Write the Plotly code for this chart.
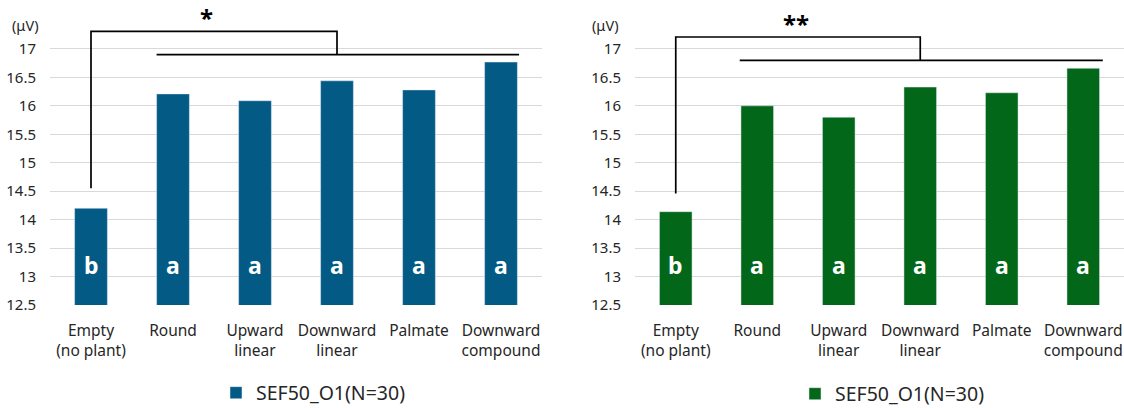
import plotly.graph_objects as go

categories = ["Empty<br>(no plant)", "Round", "Upward<br>linear", "Downward<br>linear", "Palmate", "Downward<br>compound"]
left_values = [14.2, 16.21, 16.09, 16.44, 16.28, 16.77]
right_values = [14.14, 16.0, 15.8, 16.33, 16.23, 16.66]
group_letters = ["b", "a", "a", "a", "a", "a"]
series_name = "SEF50_O1(N=30)"
y_ticks = [12.5, 13, 13.5, 14, 14.5, 15, 15.5, 16, 16.5, 17]
y_tick_text = ["12.5", "13", "13.5", "14", "14.5", "15", "15.5", "16", "16.5", "17"]

# significance brackets: (x, y) vertices
left_bracket_x = [0, 0, 3.0, 3.0]
left_bracket_y = [14.55, 17.31, 17.31, 16.9]
left_line_x = [0.8, 5.22]
left_line_y = [16.9, 16.9]
left_star = "*"
left_star_pos = (1.41, 17.56)

right_bracket_x = [0, 0, 3.0, 3.0]
right_bracket_y = [14.46, 17.21, 17.21, 16.8]
right_line_x = [0.785, 5.24]
right_line_y = [16.8, 16.8]
right_star = "**"
right_star_pos = (1.48, 17.44)

blue = "#035b85"
green = "#03671a"
FONT = "Noto Sans"
TXT = "#262626"

x_idx = list(range(len(categories)))

fig = go.Figure()
fig.add_trace(go.Bar(x=x_idx, y=left_values, marker_color=blue, width=0.4, name=series_name,
                     xaxis="x", yaxis="y", legend="legend"))
fig.add_trace(go.Bar(x=x_idx, y=right_values, marker_color=green, width=0.4, name=series_name,
                     xaxis="x2", yaxis="y2", legend="legend2"))

for bx, by, lx, ly, xa, ya in [(left_bracket_x, left_bracket_y, left_line_x, left_line_y, "x", "y"),
                               (right_bracket_x, right_bracket_y, right_line_x, right_line_y, "x2", "y2")]:
    fig.add_trace(go.Scatter(x=bx, y=by, mode="lines", line=dict(color="black", width=1.7),
                             showlegend=False, xaxis=xa, yaxis=ya, hoverinfo="skip", cliponaxis=False))
    fig.add_trace(go.Scatter(x=lx, y=ly, mode="lines", line=dict(color="black", width=1.7),
                             showlegend=False, xaxis=xa, yaxis=ya, hoverinfo="skip", cliponaxis=False))

annotations = []
for i, letter in enumerate(group_letters):
    for xa, ya in [("x", "y"), ("x2", "y2")]:
        annotations.append(dict(x=i, y=13.2, xref=xa, yref=ya, text=letter, showarrow=False,
                                font=dict(family=FONT, size=23, color="white", weight="bold")))
annotations.append(dict(x=left_star_pos[0], y=left_star_pos[1], xref="x", yref="y", text=left_star,
                        showarrow=False, font=dict(family=FONT, size=24, color="black", weight="bold")))
annotations.append(dict(x=right_star_pos[0], y=right_star_pos[1], xref="x2", yref="y2", text=right_star,
                        showarrow=False, font=dict(family=FONT, size=24, color="black", weight="bold")))
annotations.append(dict(x=25 / 1124, y=1 - 25 / 408, xref="paper", yref="paper", text="(μV)", showarrow=False,
                        xanchor="center", yanchor="middle", font=dict(family=FONT, size=14.5, color=TXT)))
annotations.append(dict(x=605 / 1124, y=1 - 25 / 408, xref="paper", yref="paper", text="(μV)", showarrow=False,
                        xanchor="center", yanchor="middle", font=dict(family=FONT, size=14.5, color=TXT)))

yrange = [12.5, 17.86]
ydom = [103 / 408, 1.0]
yax = dict(range=yrange, tickvals=y_ticks, ticktext=y_tick_text, showgrid=True, gridcolor="#d9d9d9",
           gridwidth=1.2, zeroline=False, showline=False, ticks="outside", ticklen=10, tickcolor="rgba(0,0,0,0)",
           tickfont=dict(family=FONT, size=15, color=TXT), domain=ydom, fixedrange=True, automargin=False)
xax = dict(range=[-0.5, 5.5], tickvals=x_idx, ticktext=categories, showgrid=False, zeroline=False,
           showline=False, ticks="outside", ticklen=11, tickcolor="rgba(0,0,0,0)",
           tickfont=dict(family=FONT, size=15.5, color=TXT), automargin=False, fixedrange=True)

fig.update_layout(
    width=1124, height=408, margin=dict(l=0, r=0, t=0, b=0, autoexpand=False),
    paper_bgcolor="white", plot_bgcolor="white", barmode="overlay",
    xaxis=dict(xax, domain=[50 / 1124, 542 / 1124], anchor="y"),
    yaxis=dict(yax, anchor="x"),
    xaxis2=dict(xax, domain=[635 / 1124, 1.0], anchor="y2"),
    yaxis2=dict(yax, anchor="x2"),
    legend=dict(x=216 / 1124, y=15 / 408, xanchor="left", yanchor="middle",
                font=dict(family=FONT, size=19.5, color=TXT), bgcolor="rgba(0,0,0,0)"),
    legend2=dict(x=795 / 1124, y=14 / 408, xanchor="left", yanchor="middle",
                 font=dict(family=FONT, size=19.5, color=TXT), bgcolor="rgba(0,0,0,0)"),
    annotations=annotations,
    showlegend=True,
)
fig.write_html("out.html", config={"displayModeBar": False},
               post_script="document.body.style.margin='0';document.body.style.overflow='hidden';")
